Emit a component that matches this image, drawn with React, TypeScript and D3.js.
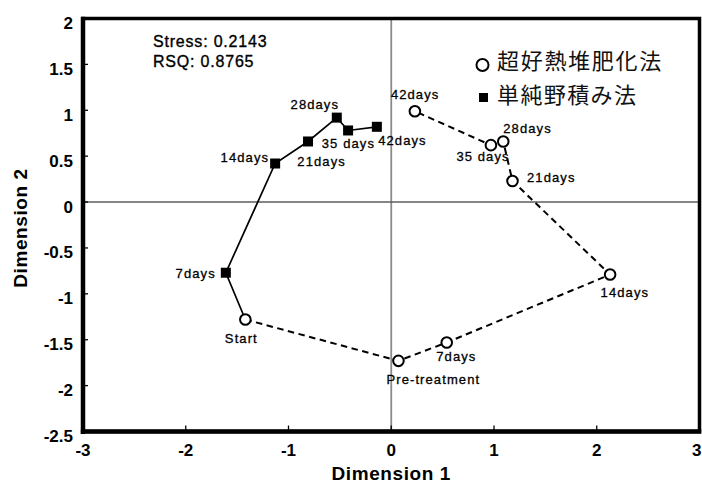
import React from "react";
import * as d3 from "d3";

// ---- Data ----
const xTicks = [-3, -2, -1, 0, 1, 2, 3];
const yTicks = [-2.5, -2, -1.5, -1, -0.5, 0, 0.5, 1, 1.5, 2];

// 超好熱堆肥化法 (open circles, dashed)
const hyperLabels = ["Start", "Pre-treatment", "7days", "14days", "21days", "28days", "35 days", "42days"];
const hyperX = [-1.42, 0.07, 0.54, 2.13, 1.18, 1.09, 0.97, 0.23];
const hyperY = [-1.28, -1.73, -1.53, -0.79, 0.23, 0.66, 0.62, 0.99];

// 単純野積み法 (filled squares, solid) — starts from the shared Start point
const pileLabels = ["Start", "7days", "14days", "21days", "28days", "35 days", "42days"];
const pileX = [-1.42, -1.61, -1.13, -0.81, -0.53, -0.42, -0.14];
const pileY = [-1.28, -0.77, 0.42, 0.66, 0.92, 0.78, 0.82];

const statsLines = ["Stress: 0.2143", "RSQ: 0.8765"];
const legendNames = ["超好熱堆肥化法", "単純野積み法"];
const xTitle = "Dimension 1";
const yTitle = "Dimension 2";

// ---- Layout (label offsets in px from the point) ----
type Off = [number, number, "start" | "middle" | "end"];
const hyperOffsets: Off[] = [
  [-4, 23, "middle"],
  [-12, 23.5, "start"],
  [-10.5, 19, "start"],
  [-9.5, 22.3, "start"],
  [14.5, 1, "start"],
  [0, -8.3, "start"],
  [-34.5, 16.3, "start"],
  [-24, -12, "start"],
];
const pileOffsets: Off[] = [
  [0, 0, "start"],
  [-10, 5.3, "end"],
  [-6, -2, "end"],
  [-10.7, 24.7, "start"],
  [2.3, -8.3, "end"],
  [-26.3, 17.7, "start"],
  [1.3, 18, "start"],
];

const W = 702;
const H = 486;
const L = 83, R = 699.5, T = 18.5, B = 431.5;

export default function App() {
  const x = d3.scaleLinear().domain([-3, 3]).range([L, R]);
  const y = d3.scaleLinear().domain([-2.5, 2]).range([B, T]);

  const hyperPts = hyperX.map((v, i) => [x(v), y(hyperY[i])] as [number, number]);
  const pilePts = pileX.map((v, i) => [x(v), y(pileY[i])] as [number, number]);
  const line = d3.line();

  const latin = "'Liberation Sans', Arial, Helvetica, sans-serif";
  const cjk = "'Noto Sans CJK JP', 'Noto Sans CJK SC', sans-serif";
  const labelStyle: React.CSSProperties = { letterSpacing: "1.1px" };

  return (
    <svg
      width={W}
      height={H}
      viewBox={`0 0 ${W} ${H}`}
      style={{ position: "absolute", left: 0, top: 0, background: "#fff" }}
      fontFamily={latin}
    >
      <rect x={0} y={0} width={W} height={H} fill="#fff" />
      {/* zero lines */}
      <line x1={x(0)} x2={x(0)} y1={T} y2={B} stroke="#8a8a8a" strokeWidth={1.8} />
      <line x1={L} x2={R} y1={y(0)} y2={y(0)} stroke="#5e5e5e" strokeWidth={1.6} />

      {/* frame */}
      <rect x={L} y={T} width={R - L} height={B - T} fill="none" stroke="#000" strokeWidth={3.5} />
      <line x1={L} x2={L} y1={T - 1.75} y2={B + 2.5} stroke="#000" strokeWidth={4.5} />
      <line x1={L - 2.2} x2={R + 1.75} y1={B} y2={B} stroke="#000" strokeWidth={4.5} />

      {/* ticks */}
      {yTicks.map((t) => (
        <g key={"yt" + t}>
          <line x1={L} x2={L + 5} y1={y(t)} y2={y(t)} stroke="#000" strokeWidth={1.3} />
          <text
            x={73}
            y={y(t) + 10.5}
            textAnchor="end"
            fontSize={17}
            fontWeight="bold"
            fill="#000"
          >
            {String(t)}
          </text>
        </g>
      ))}
      {xTicks.map((t, i) => {
        const last = i === xTicks.length - 1;
        return (
          <g key={"xt" + t}>
            <line x1={x(t)} x2={x(t)} y1={B} y2={B - 6} stroke="#000" strokeWidth={1.3} />
            <text
              x={last ? W - 0.5 : x(t)}
              y={456}
              textAnchor={last ? "end" : "middle"}
              fontSize={17}
              fontWeight="bold"
              fill="#000"
            >
              {String(t)}
            </text>
          </g>
        );
      })}

      {/* axis titles */}
      <text
        x={(L + R) / 2}
        y={480}
        textAnchor="middle"
        fontSize={19}
        fontWeight="bold"
        style={{ letterSpacing: "0.6px" }}
        fill="#000"
      >
        {xTitle}
      </text>
      <text
        transform={`translate(26.5, 228) rotate(-90)`}
        textAnchor="middle"
        fontSize={19}
        fontWeight="bold"
        style={{ letterSpacing: "0.6px" }}
        fill="#000"
      >
        {yTitle}
      </text>

      {/* stats */}
      {statsLines.map((s, i) => (
        <text
          key={s}
          x={153}
          y={46.7 + i * 20}
          fontSize={16}
          fill="#000"
          stroke="#000"
          strokeWidth={0.35}
          style={{ letterSpacing: "0.8px" }}
        >
          {s}
        </text>
      ))}

      {/* series lines */}
      <path d={line(pilePts) || ""} fill="none" stroke="#000" strokeWidth={1.7} />
      <path d={line(hyperPts) || ""} fill="none" stroke="#000" strokeWidth={2} strokeDasharray="6.5,4.5" />

      {/* squares */}
      {pilePts.slice(1).map(([px, py], i) => (
        <rect key={"sq" + i} x={px - 5} y={py - 5} width={10} height={10} fill="#000" />
      ))}
      {/* circles */}
      {hyperPts.map(([px, py], i) => (
        <circle key={"c" + i} cx={px} cy={py} r={5.3} fill="#fff" stroke="#000" strokeWidth={2} />
      ))}

      {/* labels */}
      {hyperLabels.map((lab, i) => (
        <text
          key={"hl" + i}
          x={hyperPts[i][0] + hyperOffsets[i][0]}
          y={hyperPts[i][1] + hyperOffsets[i][1]}
          textAnchor={hyperOffsets[i][2]}
          fontSize={13}
          fill="#000"
          stroke="#000"
          strokeWidth={0.3}
          style={labelStyle}
        >
          {lab}
        </text>
      ))}
      {pileLabels.map((lab, i) =>
        i === 0 ? null : (
          <text
            key={"pl" + i}
            x={pilePts[i][0] + pileOffsets[i][0]}
            y={pilePts[i][1] + pileOffsets[i][1]}
            textAnchor={pileOffsets[i][2]}
            fontSize={13}
            fill="#000"
            stroke="#000"
            strokeWidth={0.3}
            style={labelStyle}
          >
            {lab}
          </text>
        )
      )}

      {/* legend */}
      <circle cx={482.5} cy={65} r={6} fill="#fff" stroke="#000" strokeWidth={2} />
      <rect x={479} y={93} width={9} height={9} fill="#000" />
      <text x={497} y={68.5} fontFamily={cjk} fontSize={22} fill="#111" style={{ letterSpacing: "1.7px" }}>
        {legendNames[0]}
      </text>
      <text x={497} y={103} fontFamily={cjk} fontSize={22} fill="#111" style={{ letterSpacing: "1.4px" }}>
        {legendNames[1]}
      </text>
    </svg>
  );
}
